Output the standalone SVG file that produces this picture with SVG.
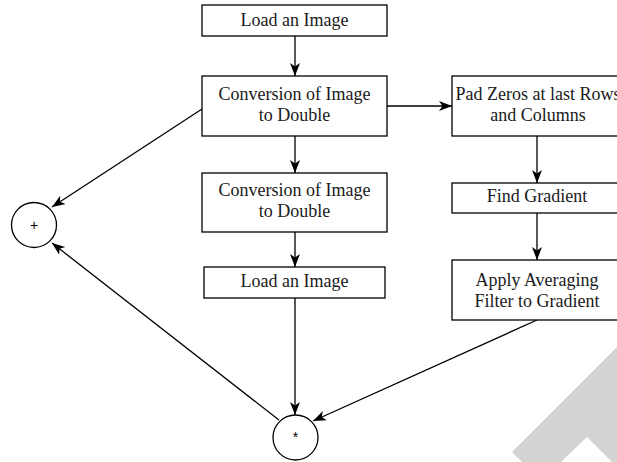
<svg xmlns="http://www.w3.org/2000/svg" width="617" height="462" viewBox="0 0 617 462">
<style>
.box{fill:#fff;stroke:#000;stroke-width:1.3}
.lbl{font-family:"Liberation Serif",serif;font-size:18px;fill:#1a1a1a;text-anchor:middle}
.sym{font-family:"Liberation Sans",sans-serif;font-size:14px;fill:#000;text-anchor:middle}
.edge{stroke:#000;stroke-width:1.3;fill:none;marker-end:url(#ah)}
</style>
<defs>
<marker id="ah" markerUnits="userSpaceOnUse" markerWidth="14" markerHeight="11" refX="13" refY="5" orient="auto">
<path d="M0,0 L13,5 L0,10 L3.5,5 z" fill="#000"/>
</marker>
</defs>
<rect width="617" height="462" fill="#fff"/>
<polygon points="512,452 617,347 617,462 612,462 587,437 561,462 522,462" fill="#d3d3d3"/>
<g id="connectors">
<line class="edge" x1="295" y1="36" x2="295" y2="76"/>
<line class="edge" x1="295" y1="136" x2="295" y2="173"/>
<line class="edge" x1="295" y1="232" x2="295" y2="267"/>
<line class="edge" x1="295" y1="298" x2="295" y2="415"/>
<line class="edge" x1="387" y1="106" x2="452" y2="106"/>
<line class="edge" x1="537" y1="136" x2="537" y2="183"/>
<line class="edge" x1="537" y1="213" x2="537" y2="260"/>
<line class="edge" x1="537" y1="320" x2="313" y2="421"/>
<line class="edge" x1="202" y1="109" x2="52" y2="207"/>
<line class="edge" x1="279" y1="420" x2="52" y2="243"/>
</g>
<g id="load1">
<rect class="box" x="202" y="5" width="185" height="31"/>
<text class="lbl" x="294.5" y="26">Load an Image</text>
</g>
<g id="convert1">
<rect class="box" x="202" y="76" width="185" height="60"/>
<text class="lbl" x="294.5" y="100">Conversion of Image</text>
<text class="lbl" x="294.5" y="121">to Double</text>
</g>
<g id="convert2">
<rect class="box" x="202" y="173" width="185" height="59"/>
<text class="lbl" x="294.5" y="196">Conversion of Image</text>
<text class="lbl" x="294.5" y="217">to Double</text>
</g>
<g id="load2">
<rect class="box" x="204" y="267" width="181" height="31"/>
<text class="lbl" x="294.5" y="287">Load an Image</text>
</g>
<g id="padzeros">
<rect class="box" x="452" y="76" width="170" height="60"/>
<text class="lbl" x="538" y="99.5">Pad Zeros at last Rows</text>
<text class="lbl" x="538" y="121">and Columns</text>
</g>
<g id="gradient">
<rect class="box" x="452" y="183" width="170" height="30"/>
<text class="lbl" x="537" y="202">Find Gradient</text>
</g>
<g id="averaging">
<rect class="box" x="452" y="260" width="170" height="60"/>
<text class="lbl" x="537" y="286">Apply Averaging</text>
<text class="lbl" x="537" y="307">Filter to Gradient</text>
</g>
<g id="plus">
<circle class="box" cx="34" cy="225" r="22.5"/>
<text class="sym" x="34" y="230">+</text>
</g>
<g id="times">
<circle class="box" cx="295.5" cy="437.5" r="22.5"/>
<text class="sym" x="295.5" y="442">*</text>
</g>
</svg>
